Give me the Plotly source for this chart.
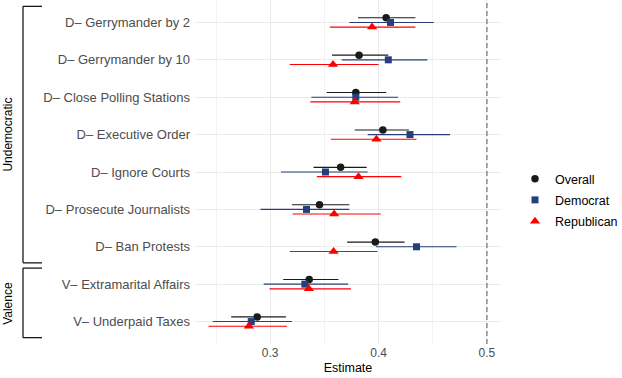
import plotly.graph_objects as go

# ---------------- data ----------------
categories = [
    "D\u2013 Gerrymander by 2",
    "D\u2013 Gerrymander by 10",
    "D\u2013 Close Polling Stations",
    "D\u2013 Executive Order",
    "D\u2013 Ignore Courts",
    "D\u2013 Prosecute Journalists",
    "D\u2013 Ban Protests",
    "V\u2013 Extramarital Affairs",
    "V\u2013 Underpaid Taxes",
]
groups = ["Undemocratic", "Valence"]
group_first = [1, 8]
group_last = [7, 9]

overall_est = [0.407, 0.382, 0.379, 0.404, 0.365, 0.3455, 0.397, 0.336, 0.288]
overall_lo = [0.381, 0.357, 0.352, 0.378, 0.340, 0.320, 0.371, 0.312, 0.264]
overall_hi = [0.434, 0.409, 0.407, 0.428, 0.389, 0.373, 0.424, 0.363, 0.3145]

dem_est = [0.411, 0.409, 0.379, 0.429, 0.351, 0.3335, 0.435, 0.332, 0.2825]
dem_lo = [0.373, 0.366, 0.338, 0.390, 0.310, 0.291, 0.3975, 0.294, 0.247]
dem_hi = [0.451, 0.445, 0.418, 0.466, 0.390, 0.373, 0.472, 0.372, 0.320]

rep_est = [0.394, 0.358, 0.378, 0.398, 0.3815, 0.359, 0.3585, 0.3357, 0.2803]
rep_lo = [0.355, 0.318, 0.337, 0.356, 0.343, 0.3206, 0.318, 0.2994, 0.243]
rep_hi = [0.434, 0.400, 0.420, 0.435, 0.421, 0.402, 0.399, 0.3745, 0.3155]

x_ticks = [0.3, 0.4, 0.5]
ref_line = 0.5

# ---------------- layout geometry ----------------
W, H = 622, 378
ML, MR, MT, MB = 195, 121, 0, 34
PW = W - ML - MR
FONT = "Liberation Sans, Arial, Helvetica, sans-serif"

def px_to_paper_x(px):
    return (px - ML) / PW

pos = list(range(1, len(categories) + 1))
dodge = 0.125

series = [
    ("Overall", overall_est, overall_lo, overall_hi, -dodge, "#1a1a1a", "circle", 7.5),
    ("Democrat", dem_est, dem_lo, dem_hi, 0.0, "#243f7a", "square", 7),
    ("Republican", rep_est, rep_lo, rep_hi, dodge, "#ff0000", "triangle-up", 9),
]

fig = go.Figure()
for name, est, lo, hi, off, col, sym, size in series:
    fig.add_trace(go.Scatter(
        x=est,
        y=[p + off for p in pos],
        mode="markers",
        name=name,
        legendgroup=name,
        marker=dict(color=col, symbol=sym, size=size, line=dict(width=0)),
        error_x=dict(
            type="data", symmetric=False,
            array=[h - e for h, e in zip(hi, est)],
            arrayminus=[e - l for e, l in zip(est, lo)],
            color=col, thickness=1.1, width=0,
        ),
    ))

shapes = [dict(type="line", xref="x", yref="paper", x0=ref_line, x1=ref_line,
               y0=0, y1=1, line=dict(color="#8c8c8c", width=1.5, dash="5px,3px"),
               layer="above")]
annotations = []
bx = px_to_paper_x(23)
bx2 = px_to_paper_x(42)
for g, a, b in zip(groups, group_first, group_last):
    y0, y1 = a - 0.43, b + 0.43
    for seg in [(bx, y0, bx, y1), (bx, y0, bx2, y0), (bx, y1, bx2, y1)]:
        shapes.append(dict(type="line", xref="paper", yref="y",
                           x0=seg[0], y0=seg[1], x1=seg[2], y1=seg[3],
                           line=dict(color="#1a1a1a", width=1.3)))
    annotations.append(dict(text=g, xref="paper", yref="y",
                            x=px_to_paper_x(8), y=(y0 + y1) / 2, textangle=-90,
                            showarrow=False, font=dict(size=12, color="#000000", family=FONT),
                            xanchor="center", yanchor="middle"))

fig.update_layout(
    width=W, height=H,
    margin=dict(l=ML, r=MR, t=MT, b=MB, autoexpand=False),
    paper_bgcolor="white", plot_bgcolor="white",
    font=dict(family=FONT, size=12, color="#000000"),
    shapes=shapes, annotations=annotations,
    showlegend=True,
    legend=dict(x=px_to_paper_x(515), y=1 - 200 / (H - MT - MB), xanchor="left", yanchor="middle",
                font=dict(size=12.5, color="#000000", family=FONT),
                tracegroupgap=2, bgcolor="rgba(0,0,0,0)", itemclick=False),
)
fig.update_xaxes(
    range=[0.2306, 0.513], tickvals=x_ticks, ticktext=[str(t) for t in x_ticks],
    showgrid=True, gridcolor="#ebebeb", gridwidth=1.2,
    minor=dict(tickvals=[0.25, 0.35, 0.45], showgrid=True, gridcolor="#f2f2f2", gridwidth=0.8),
    zeroline=False, showline=False, ticks="",
    tickfont=dict(size=12, color="#4d4d4d", family=FONT),
    title=dict(text="Estimate", font=dict(size=12.5, color="#000000", family=FONT), standoff=4),
    automargin=False,
)
fig.update_yaxes(
    range=[len(categories) + 0.6, 0.4], tickvals=pos, ticktext=categories,
    showgrid=True, gridcolor="#ebebeb", gridwidth=1.2,
    zeroline=False, showline=False, ticks="",
    tickfont=dict(size=13, color="#4d4d4d", family=FONT),
    ticklabelstandoff=4, automargin=False,
)

fig.write_html(
    "out.html",
    config={"displayModeBar": False},
    post_script="document.body.style.margin='0';document.body.style.padding='0';",
)
